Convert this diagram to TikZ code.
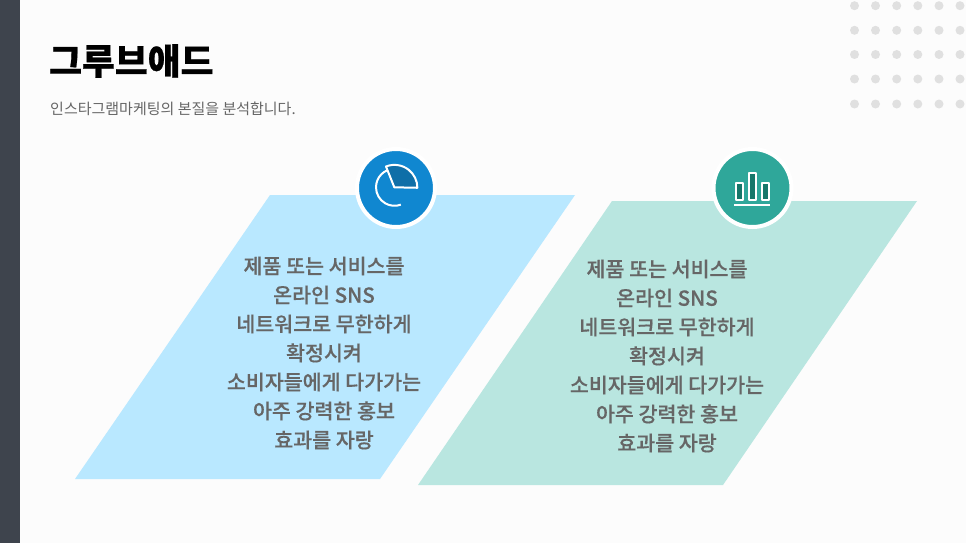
\documentclass[tikz,border=0pt]{standalone}
\usepackage{fontspec}
\setmainfont{Noto Sans CJK KR}
\newfontfamily\titlefont[FakeBold=0.6]{Noto Sans CJK KR Black}
\newfontfamily\bodyfont[FakeBold=0.35]{Noto Sans CJK KR Medium}
\definecolor{pagebg}{HTML}{FCFCFC}
\definecolor{sidebar}{HTML}{3E444D}
\definecolor{dotgray}{HTML}{E0E0E0}
\definecolor{bodygray}{HTML}{666666}
\definecolor{skypanel}{HTML}{B9E8FF}
\definecolor{mintpanel}{HTML}{B9E6E0}
\definecolor{skyicon}{HTML}{1087D0}
\definecolor{skydark}{HTML}{0F6FA8}
\definecolor{minticon}{HTML}{2FA79A}
\definecolor{mintdark}{HTML}{17776A}
\usetikzlibrary{positioning}
\tikzset{
  panel text/.style={text=bodygray,align=center,inner sep=0pt,
    font=\fontsize{20.6}{29}\bodyfont},
  badge/.style={circle,fill=#1,draw=white,line width=4pt,minimum size=78pt,inner sep=0pt},
  icon line/.style={draw=white,line width=2pt,line join=round}
}
\newcommand{\paneltext}{제품 또는 서비스를\\온라인 SNS\\네트워크로 무한하게\\확정시켜\\소비자들에게 다가가는\\아주 강력한 홍보\\효과를 자랑}
\begin{document}
\begin{tikzpicture}[x=1pt,y=-1pt]
  \useasboundingbox (0,0) rectangle (966,543);
  \fill[pagebg] (0,0) rectangle (966,543);
  \fill[sidebar] (0,0) rectangle (20,543);

  % dots
  \foreach \x in {854.5,875.5,896.7,917.8,939,960}
    \foreach \y in {5.7,30.3,54.5,79,104}
      \fill[dotgray] (\x,\y) circle (4.5);

  \node[anchor=west,inner sep=0pt,font=\fontsize{35.7}{36}\titlefont] (title) at (49,61) {그루브애드};
  \node[anchor=west,inner sep=0pt,text=bodygray,font=\fontsize{15}{15}\selectfont] (subtitle) at (50,108.5) {인스타그램마케팅의 본질을 분석합니다.};

  % panels
  \fill[skypanel] (270,195) -- (575,195) -- (380,479) -- (75,479) -- cycle;
  \fill[mintpanel] (612,201) -- (917,201) -- (723,485) -- (418,485) -- cycle;
  \node[panel text] (leftText) at (324,353) {\paneltext};
  \node[panel text] (rightText) at (667,356) {\paneltext};

  \node[badge=skyicon] (leftBadge) at (396,188) {};
  \node[badge=minticon] (rightBadge) at (752.5,188) {};

  % pie icon
  \draw[icon line] (413,187.3) arc (0:-290:18.5);
  \draw[icon line,fill=skydark] (394.3,187.3) -- (386,166.5)
    arc (-111.7:0:22.9) -- cycle;

  % bar icon
  \draw[icon line,fill=mintdark] (736,183) rectangle (743,200);
  \draw[icon line,fill=mintdark] (748.5,173) rectangle (755.5,200);
  \draw[icon line,fill=mintdark] (762,183) rectangle (769,200);
  \draw[icon line] (734,204.7) -- (770,204.7);
\end{tikzpicture}
\end{document}
